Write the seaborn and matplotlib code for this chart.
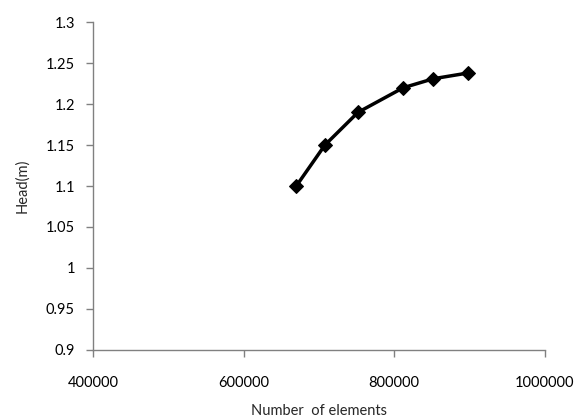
import numpy as np
import pandas as pd
import matplotlib
matplotlib.use("Agg")
import matplotlib.pyplot as plt
import seaborn as sns

# datos
elements = [670000, 708000, 752000, 812000, 852000, 898000]
head = [1.10, 1.15, 1.19, 1.22, 1.231, 1.238]

df = pd.DataFrame({"elements": elements, "head": head})

sns.set_style("white")
plt.rcParams['font.family'] = ['Lato', 'DejaVu Sans']

fig = plt.figure(figsize=(5.84, 4.19), dpi=100)
ax = fig.add_axes([0.159, 0.165, 0.774, 0.782])

sns.lineplot(data=df, x="elements", y="head", ax=ax, color="black",
             linewidth=2.5, marker="D", markersize=7.5, markeredgecolor="black")

ax.set_xlim(400000, 1000000)
ax.set_ylim(0.9, 1.3)
ax.set_xticks([400000, 600000, 800000, 1000000])
ax.set_xticklabels(["400000", "600000", "800000", "1000000"])
ax.set_yticks(np.arange(0.9, 1.301, 0.05))
ax.set_yticklabels(["0.9", "0.95", "1", "1.05", "1.1", "1.15", "1.2", "1.25", "1.3"])

for s in ["top", "right"]:
    ax.spines[s].set_visible(False)
for s in ["left", "bottom"]:
    ax.spines[s].set_color("#808080")
    ax.spines[s].set_linewidth(1)
ax.tick_params(axis="both", direction="out", length=5, width=1, color="#808080",
               labelsize=10.5, labelcolor="black", left=True, bottom=True)
ax.tick_params(axis="x", pad=14)
ax.tick_params(axis="y", pad=8)

ax.set_xlabel("Number  of elements", fontsize=10.5, labelpad=10)
ax.set_ylabel("Head(m)", fontsize=10.5, labelpad=12)

plt.savefig("out.png", dpi=100)
